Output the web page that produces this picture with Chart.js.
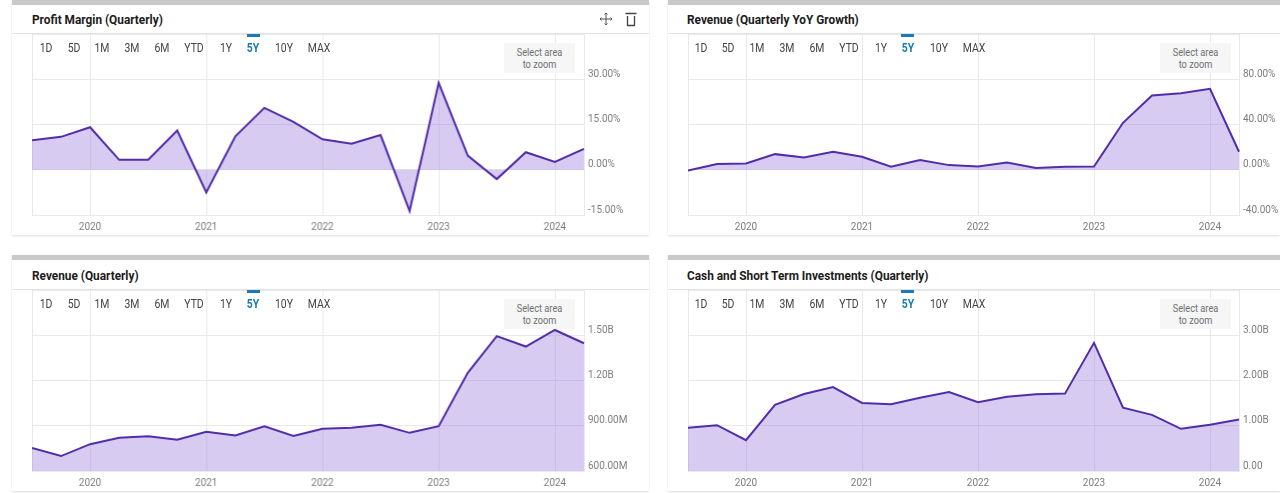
<!DOCTYPE html>
<html><head><meta charset="utf-8">
<script src="https://cdn.jsdelivr.net/npm/chart.js@4"></script>
<style>
html,body{margin:0;padding:0;background:#fff;width:1280px;height:493px;overflow:hidden}
body{position:relative;font-family:Roboto,sans-serif}
.card{position:absolute;background:#fff;box-shadow:0 1px 2px rgba(0,0,0,.14);box-sizing:border-box}
.bar{position:absolute;left:0;right:0;top:0;height:5px;background:#c9c9c9}
.title{position:absolute;left:20px;top:11.5px;font:bold 13px/16px Roboto,sans-serif;color:#1c1c1c;white-space:nowrap;transform:scaleX(.91);transform-origin:left center}
.div{position:absolute;left:0;right:0;top:33px;height:1px;background:#e2e2e2}
canvas{position:absolute}
.rng{position:absolute;top:41px;transform:translateX(-50%) scaleX(.87);font:12px/14px Roboto,sans-serif;color:#444;white-space:nowrap}
.rng.on{color:#1b7ab5;font-weight:bold}
.mark{position:absolute;top:34px;height:2.5px;width:13px;background:#1b7ab5}
.zoom{position:absolute;top:43px;width:71px;height:30px;background:#f6f6f6;text-align:center;color:#6f6f6f;box-sizing:border-box}
.zoom div{font:10.5px/11.5px Roboto,sans-serif;padding-top:4px;transform:scaleX(.88)}
svg{position:absolute}
</style></head><body>
<script>
const quarters = ["2019Q3","2019Q4","2020Q1","2020Q2","2020Q3","2020Q4","2021Q1","2021Q2","2021Q3","2021Q4","2022Q1","2022Q2","2022Q3","2022Q4","2023Q1","2023Q2","2023Q3","2023Q4","2024Q1","2024Q2"];
const yearLabels = {"2020Q1":"2020","2021Q1":"2021","2022Q1":"2022","2023Q1":"2023","2024Q1":"2024"};
const ranges = ["1D","5D","1M","3M","6M","YTD","1Y","5Y","10Y","MAX"];
const rangeOffsets = [14,41.5,70,100,130,162,194,221,252,287];

const profitMargin = [9.8,10.9,14.1,3.3,3.3,13,-7.5,11.1,20.5,15.9,10.1,8.6,11.5,-13.7,28.8,4.7,-3.1,5.8,2.6,6.9];
const revenueGrowth = [-0.6,5,5.6,13.8,10.9,15.9,11.5,2.6,8.5,4.1,2.9,6.5,1.5,2.6,2.9,41.5,65.6,67.6,71.5,15.9];
const revenue = [752,699,778,820,831,807,860,835,897,833,880,886,906,853,897,1251,1494,1425,1535,1447];
const cash = [0.954,1.012,0.682,1.46,1.70,1.856,1.504,1.475,1.62,1.746,1.519,1.643,1.695,1.71,2.832,1.401,1.24,0.932,1.02,1.137];

const profitTicks = {min:-15,max:45,step:15,fmt:v=>v.toFixed(2)+"%"};
const growthTicks = {min:-40,max:120,step:40,fmt:v=>v.toFixed(2)+"%"};
const revenueTicks = {min:600,max:1800,step:300,fmt:v=>v>=1000?(v/1000).toFixed(2)+"B":v.toFixed(2)+"M"};
const cashTicks = {min:0,max:4,step:1,fmt:v=>v===0?"0.00":v.toFixed(2)+"B"};

const panels = [
 {title:"Profit Margin (Quarterly)",data:profitMargin,t:profitTicks,x:12,y:0,w:637,h:235,dy:0,plotL:32.3,plotW:551.5,rdx:0,tx:20,icons:true},
 {title:"Revenue (Quarterly YoY Growth)",data:revenueGrowth,t:growthTicks,x:667.5,y:0,w:612.5,h:235,dy:0,plotL:687.5,plotW:551,rdx:-1,tx:19.5},
 {title:"Revenue (Quarterly)",data:revenue,t:revenueTicks,x:12,y:255,w:637,h:236,dy:1,plotL:32.3,plotW:551.5,rdx:0,tx:20},
 {title:"Cash and Short Term Investments (Quarterly)",data:cash,t:cashTicks,x:667.5,y:255,w:612.5,h:236,dy:1,plotL:687.5,plotW:551,rdx:-1,tx:19.5}
];

const GRID="#e9e9ec", LINE="#512da8", FILL="rgba(150,118,219,.38)", TICK="#7d7d7d";
const TICKFONT={family:'Roboto,sans-serif',size:10,lineHeight:'10px'};

panels.forEach(p=>{
 const c=document.createElement('div');c.className='card';
 c.style.cssText=`left:${p.x}px;top:${p.y}px;width:${p.w}px;height:${p.h}px`;
 document.body.appendChild(c);
 const add=(cls,txt,parent)=>{const e=document.createElement('div');e.className=cls;if(txt)e.textContent=txt;(parent||c).appendChild(e);return e;};
 add('bar');
 const inner=document.createElement('div');
 inner.style.cssText=`position:absolute;left:0;top:${p.dy}px;width:100%;height:100%`;
 c.appendChild(inner);
 add('title',p.title,inner).style.left=p.tx+'px';
 add('div','',inner);
 const rel=p.plotL-p.x;
 const canvas=document.createElement('canvas');
 const padTop=16, cw=p.plotW+70, ch=181+padTop+30;
 canvas.width=cw;canvas.height=ch;
 canvas.style.cssText=`left:${rel}px;top:${34-padTop}px;width:${cw}px;height:${ch}px`;
 inner.appendChild(canvas);
 ranges.forEach((r,i)=>{
  const e=add('rng'+(r==='5Y'?' on':''),r,inner);e.style.left=(rel+p.rdx+rangeOffsets[i])+'px';
  if(r==='5Y'){const m=add('mark','',inner);m.style.left=(rel+p.rdx+rangeOffsets[i]-6.5)+'px';}
 });
 const z=add('zoom','',inner);z.innerHTML='<div>Select area<br>to zoom</div>';z.style.left=(rel+472)+'px';
 if(p.icons){
  inner.insertAdjacentHTML('beforeend',`<svg style="left:587px;top:12px" width="14" height="14" viewBox="0 0 14 14" fill="none" stroke="#555" stroke-width="1"><path d="M7 1V13M1 7H13M5.5 2.5L7 1L8.5 2.5M5.5 11.5L7 13L8.5 11.5M2.5 5.5L1 7L2.5 8.5M11.5 5.5L13 7L11.5 8.5"/></svg><svg style="left:612px;top:12px" width="14" height="15" viewBox="0 0 14 15" fill="none" stroke="#444" stroke-width="1.3"><path d="M1.5 1.5H12.5M3.5 4V13.5H10.5V4"/></svg>`);
 }
 new Chart(canvas,{
  type:'line',
  data:{labels:quarters,datasets:[{data:p.data,borderColor:LINE,backgroundColor:FILL,borderWidth:2,fill:'origin',pointRadius:0,tension:0}]},
  options:{
   responsive:false,animation:false,
   layout:{padding:{top:padTop,left:0,right:0,bottom:0}},
   plugins:{legend:{display:false},tooltip:{enabled:false}},
   scales:{
    x:{type:'category',offset:false,
     afterFit:s=>{s.height=30;s.paddingLeft=0;s.paddingRight=0;},
     grid:{drawTicks:false,color:ctx=>{const l=ctx.tick&&quarters[ctx.tick.value];return (l&&(yearLabels[l]||ctx.index===0))?GRID:'rgba(0,0,0,0)';}},
     border:{color:GRID},
     ticks:{autoSkip:false,maxRotation:0,minRotation:0,padding:7,color:TICK,font:TICKFONT,callback:(v,i)=>yearLabels[quarters[i]]||''}},
    y:{position:'right',min:p.t.min,max:p.t.max,
     afterFit:s=>{s.width=70;},
     afterBuildTicks:s=>{const a=[];for(let v=p.t.min;v<=p.t.max;v+=p.t.step)a.push({value:v});s.ticks=a;},
     grid:{drawTicks:false,color:GRID},
     border:{color:GRID},
     ticks:{padding:4,color:TICK,font:TICKFONT,align:'center',callback:v=>v===p.t.max?'':[p.t.fmt(v),'']}}
   }
  }
 });
});
</script>
</body></html>
